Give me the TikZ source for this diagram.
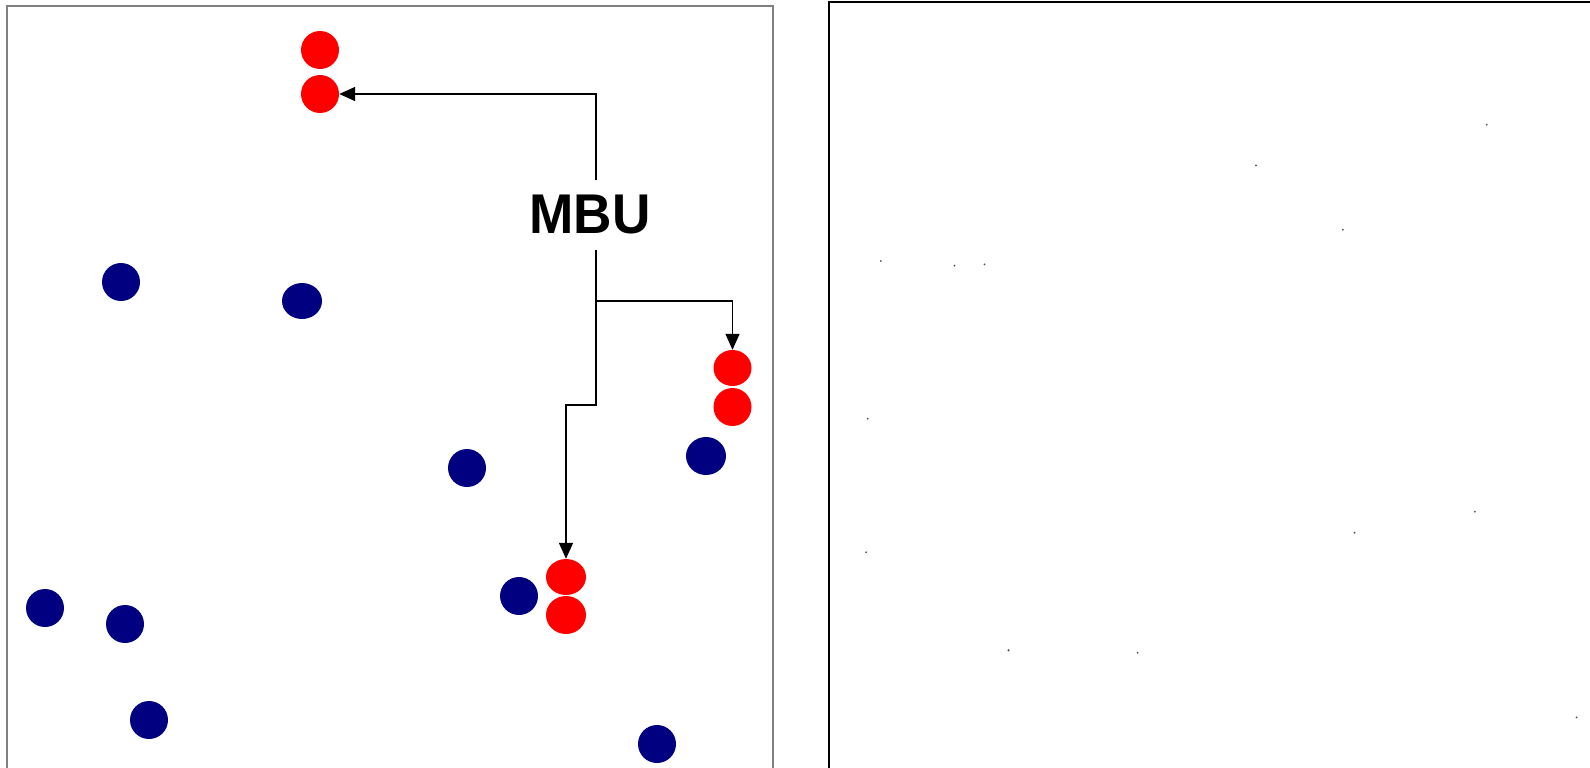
\documentclass[tikz,border=0pt]{standalone}
\usepackage{fontspec}
\newfontfamily\mbufont{Liberation Sans}
\usetikzlibrary{arrows.meta, shapes.geometric}

\definecolor{dotred}{HTML}{FF0000}
\definecolor{dotblue}{HTML}{000080}
\definecolor{framegray}{HTML}{808080}

\begin{document}
\begin{tikzpicture}[x=1pt, y=-1pt,
    dot/.style={ellipse, inner sep=0pt, minimum width=38pt, minimum height=38pt},
    red dot/.style={dot, fill=dotred},
    blue dot/.style={dot, fill=dotblue},
    speck/.style={fill=black!70},
    link/.style={line width=1.5pt, -{Triangle[length=16pt, width=14pt]}}]
    \useasboundingbox (0,0) rectangle (1590,768);

    \draw[framegray, line width=1.5pt] (7,6) rectangle (773,800);
    \draw[line width=2pt] (829,2) rectangle (1610,800);

    \node[red dot] (R1) at (320,50) {};
    \node[red dot] (R2) at (320,94) {};
    \node[red dot, minimum height=36pt] (R3) at (732.5,368) {};
    \node[red dot] (R4) at (732.5,407) {};
    \node[red dot, minimum width=40pt, minimum height=36pt] (R5) at (566,577) {};
    \node[red dot, minimum width=40pt, minimum height=38pt] (R6) at (566,615) {};

    \node[blue dot] (B1) at (121,282) {};
    \node[blue dot, minimum width=40pt, minimum height=36pt] (B2) at (302,301) {};
    \node[blue dot] (B3) at (467,468) {};
    \node[blue dot, minimum width=40pt] (B4) at (706,456) {};
    \node[blue dot] (B5) at (45,608) {};
    \node[blue dot] (B6) at (125,624) {};
    \node[blue dot] (B7) at (519,596) {};
    \node[blue dot] (B8) at (149,720) {};
    \node[blue dot] (B9) at (657,744) {};

    \node[inner sep=15pt, xscale=0.95, font=\mbufont\bfseries\fontsize{56}{60}\selectfont] (MBU) at (590,215) {MBU};

    \coordinate (T) at ([xshift=6pt]MBU.north);
    \coordinate (S) at ([xshift=6pt]MBU.south);
    \coordinate (J) at (596,301);
    \coordinate (K) at (596,405);

    \draw[link] (T) |- (R2.east);
    \draw[line width=1.5pt] (S) -- (J);
    \draw[link] (J) -| (R3.north);
    \draw[link] (J) -- (K) -| (R5.north);

    \fill[speck] (1486.7,124.7) circle (1pt);
    \fill[speck] (1256,165.3) circle (1pt);
    \fill[speck] (1342.8,229.7) circle (1pt);
    \fill[speck] (880.9,261) circle (1pt);
    \fill[speck] (954.5,265.7) circle (1pt);
    \fill[speck] (984.5,264.3) circle (1pt);
    \fill[speck] (867.6,418.7) circle (1pt);
    \fill[speck] (1474.9,511.7) circle (1pt);
    \fill[speck] (1354.6,532.7) circle (1pt);
    \fill[speck] (866.1,552.3) circle (1pt);
    \fill[speck] (1008.5,650.3) circle (1.2pt);
    \fill[speck] (1137.6,652.7) circle (1pt);
    \fill[speck] (1576.5,717.3) circle (1pt);
\end{tikzpicture}
\end{document}
